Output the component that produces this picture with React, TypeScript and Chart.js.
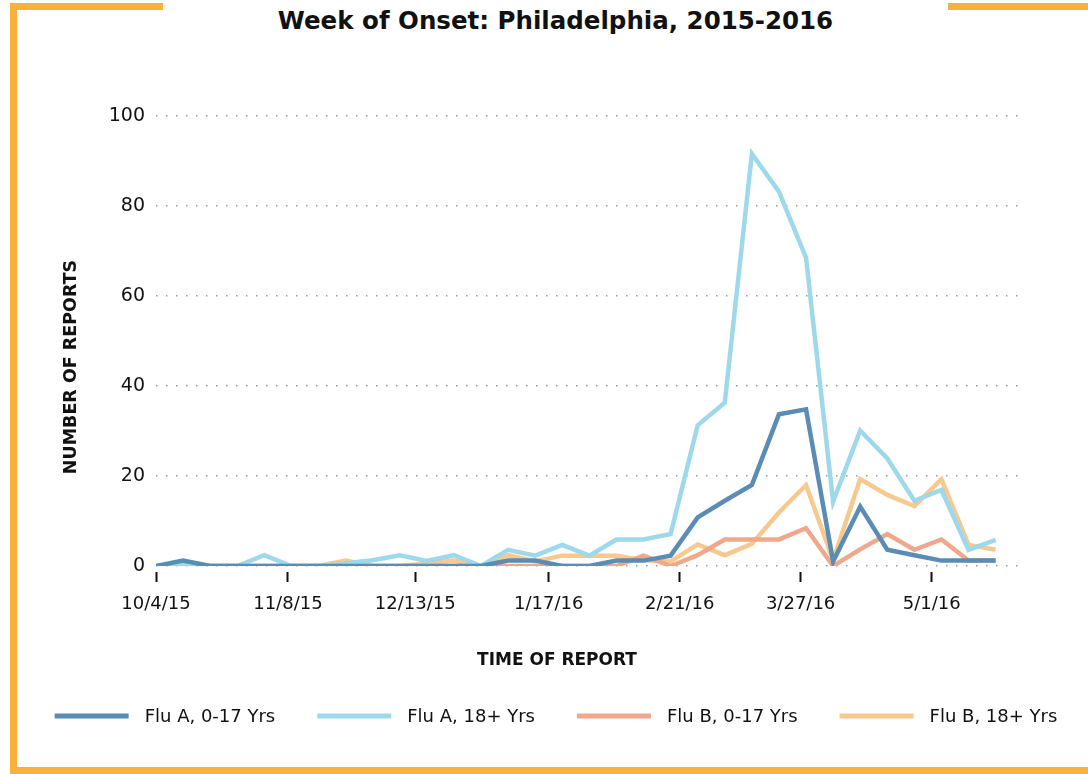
import React, { useEffect, useRef } from 'react';
import { Chart, registerables } from 'chart.js';

Chart.register(...registerables);

// ---- data ----
const seriesNames = ['Flu A, 0-17 Yrs', 'Flu A, 18+ Yrs', 'Flu B, 0-17 Yrs', 'Flu B, 18+ Yrs'];
const seriesColors = ['#5b8cb5', '#9dd9ea', '#f0a88c', '#f7c98f'];

const fluA_0to17 = [0, 1.2, 0, 0, 0, 0, 0, 0, 0, 0, 0, 0, 0, 1.2, 1.2, 0, 0, 1.2, 1.2, 2.3, 10.8, 14.5, 18, 33.7, 34.8, 1, 13.2, 3.6, 2.4, 1.2, 1.2, 1.2];
const fluA_18plus = [0, 0.5, 0, 0, 2.4, 0, 0, 0.6, 1.3, 2.4, 1.1, 2.4, 0, 3.6, 2.3, 4.7, 2.3, 5.9, 5.9, 7.1, 31.3, 36.3, 91.6, 83.2, 68.5, 14.3, 30.1, 23.9, 14.5, 16.9, 3.6, 5.8];
const fluB_0to17 = [0, 0, 0, 0, 0, 0, 0, 0, 0, 0, 0, 0, 0, 0, 0, 0, 0, 0, 2.3, 0, 2.4, 5.9, 5.9, 5.9, 8.4, 0, 3.7, 7.1, 3.6, 5.9, 1.2, 1.2];
const fluB_18plus = [0, 0, 0, 0, 0, 0, 0, 1.2, 0, 0, 0.6, 1.2, 0, 2.4, 1, 2.3, 2.3, 2.3, 1.3, 1, 4.8, 2.4, 4.9, 11.9, 18, 1.3, 19.3, 15.8, 13.3, 19.3, 4.7, 3.6];

const tickLabels = ['10/4/15', '11/8/15', '12/13/15', '1/17/16', '2/21/16', '3/27/16', '5/1/16'];
const tickWeekPositions = [0, 4.87, 9.57, 14.5, 19.34, 23.8, 28.64];

const yTickStep = 20;
const yMax = 100;

const FONT = '"DejaVu Sans", sans-serif';

const titleText = 'Week of Onset: Philadelphia, 2015-2016';
const xTitle = 'TIME OF REPORT';
const yTitle = 'NUMBER OF REPORTS';

const allSeries = [fluA_0to17, fluA_18plus, fluB_0to17, fluB_18plus];

const overlayPlugin = {
  id: 'overlayText',
  afterDraw(chart: any) {
    const ctx = chart.ctx as CanvasRenderingContext2D;
    ctx.save();
    ctx.fillStyle = '#111';
    ctx.font = `bold 17px ${FONT}`;
    ctx.textAlign = 'center';
    ctx.textBaseline = 'middle';
    ctx.fillText(xTitle, 557, 661);
    ctx.font = `bold 17.5px ${FONT}`;
    ctx.translate(71, 367);
    ctx.rotate(-Math.PI / 2);
    ctx.fillText(yTitle, 0, 0);
    ctx.restore();

    // legend
    ctx.save();
    ctx.font = `18px ${FONT}`;
    const lineLen = 74;
    const textGap = 16;
    const itemGap = 42;
    const widths = seriesNames.map((n) => lineLen + textGap + ctx.measureText(n).width);
    const total = widths.reduce((a, b) => a + b, 0) + itemGap * (widths.length - 1);
    let x = 556 - total / 2;
    const y = 716;
    seriesNames.forEach((n, i) => {
      ctx.strokeStyle = seriesColors[i];
      ctx.lineWidth = 5;
      ctx.lineCap = 'butt';
      ctx.beginPath();
      ctx.moveTo(x, y);
      ctx.lineTo(x + lineLen, y);
      ctx.stroke();
      ctx.fillStyle = '#111';
      ctx.textAlign = 'left';
      ctx.textBaseline = 'middle';
      ctx.fillText(n, x + lineLen + textGap, y + 1);
      x += widths[i] + itemGap;
    });
    ctx.restore();
  },
};

export default function App() {
  const canvasRef = useRef<HTMLCanvasElement | null>(null);

  useEffect(() => {
    if (!canvasRef.current) return;
    const chart = new Chart(canvasRef.current, {
      type: 'line',
      data: {
        datasets: allSeries.map((arr, i) => ({
          label: seriesNames[i],
          data: arr.map((v, idx) => ({ x: idx, y: v })),
          borderColor: seriesColors[i],
          backgroundColor: seriesColors[i],
          borderWidth: 4.5,
          pointRadius: 0,
          tension: 0,
          fill: false,
        })),
      },
      options: {
        animation: false,
        responsive: false,
        layout: { padding: { top: 116, right: 68, bottom: 0, left: 0 } },
        plugins: {
          legend: { display: false },
          tooltip: { enabled: false },
          title: { display: false },
        },
        scales: {
          x: {
            type: 'linear',
            min: 0,
            max: 31.9,
            afterBuildTicks: (s: any) => {
              s.ticks = tickWeekPositions.map((v) => ({ value: v }));
            },
            afterFit: (s: any) => {
              s.height = 208;
            },
            ticks: {
              autoSkip: false,
              maxRotation: 0,
              minRotation: 0,
              padding: 12,
              color: '#111',
              font: { family: FONT, size: 18 },
              callback: (_v: any, i: number) => tickLabels[i],
            },
            grid: {
              drawOnChartArea: false,
              drawTicks: true,
              tickLength: 16,
              tickWidth: 2,
              tickColor: '#111',
              tickBorderDash: [0, 6, 10, 100],
            },
            border: { display: false },
          },
          y: {
            min: 0,
            max: yMax,
            afterFit: (s: any) => {
              s.width = 156;
            },
            ticks: {
              stepSize: yTickStep,
              padding: 11,
              color: '#111',
              font: { family: FONT, size: 19 },
            },
            grid: {
              drawTicks: false,
              color: '#9a9a9a',
              lineWidth: 1.5,
            },
            border: { display: false, dash: [1.5, 8.5] },
          },
        },
      },
      plugins: [overlayPlugin],
    });
    return () => chart.destroy();
  }, []);

  return (
    <div style={{ position: 'absolute', left: 0, top: 0, width: 1088, height: 774, background: '#fff', overflow: 'hidden' }}>
      <div
        style={{
          position: 'absolute',
          left: 10,
          top: 3,
          width: 1200,
          height: 757,
          border: '7px solid #fbb03b',
        }}
      />
      <div
        style={{
          position: 'absolute',
          left: 163,
          top: 0,
          width: 785,
          height: 44,
          background: '#fff',
          textAlign: 'center',
          fontFamily: FONT,
          fontWeight: 'bold',
          fontSize: 24.5,
          lineHeight: '42px',
          color: '#111',
        }}
      >
        {titleText}
      </div>
      <canvas ref={canvasRef} width={1088} height={774} style={{ position: 'absolute', left: 0, top: 0 }} />
    </div>
  );
}
